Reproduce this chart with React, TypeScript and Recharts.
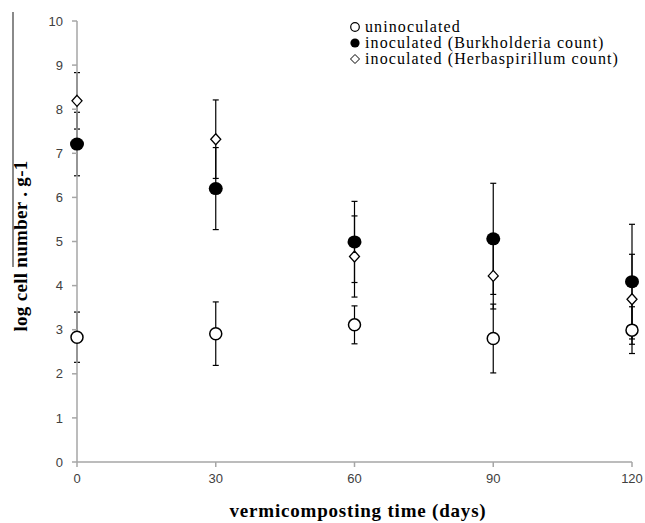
import React from "react";
import {
  ScatterChart,
  Scatter,
  XAxis,
  YAxis,
  ErrorBar,
  Label,
} from "recharts";

const days = [0, 30, 60, 90, 120];
const xTicks = [0, 30, 60, 90, 120];
const yTicks = [0, 1, 2, 3, 4, 5, 6, 7, 8, 9, 10];

const uninoculated = [2.83, 2.91, 3.11, 2.8, 2.99];
const uninoculatedErr = [0.57, 0.72, 0.43, 0.78, 0.53];
const burkholderia = [7.21, 6.2, 4.99, 5.06, 4.09];
const burkholderiaErr = [0.72, 0.93, 0.92, 1.26, 1.3];
const herbaspirillum = [8.19, 7.32, 4.66, 4.22, 3.69];
const herbaspirillumErr = [0.64, 0.89, 0.92, 0.75, 1.02];

const toRows = (vals: number[], errs: number[]) =>
  days.map((d, i) => ({ day: d, value: vals[i], err: errs[i] }));

const uninocData = toRows(uninoculated, uninoculatedErr);
const burkData = toRows(burkholderia, burkholderiaErr);
const herbData = toRows(herbaspirillum, herbaspirillumErr);

const serif = '"Liberation Serif", "Times New Roman", serif';
const sans = '"Liberation Sans", Arial, sans-serif';
const axisGray = "#a6a6a6";

const OpenCircle = (p: any) => (
  <circle cx={p.cx} cy={p.cy} r={6} fill="#fff" stroke="#000" strokeWidth={1.5} />
);
const FilledCircle = (p: any) => (
  <ellipse cx={p.cx} cy={p.cy} rx={7} ry={6.5} fill="#000" />
);
const Diamond = (p: any) => (
  <path
    d={`M${p.cx},${p.cy - 5.5} L${p.cx + 5},${p.cy} L${p.cx},${p.cy + 5.5} L${p.cx - 5},${p.cy} Z`}
    fill="#fff"
    stroke="#000"
    strokeWidth={1.3}
  />
);

const legendRows = [
  { label: "uninoculated", kind: "open" },
  { label: "inoculated (Burkholderia count)", kind: "filled" },
  { label: "inoculated (Herbaspirillum count)", kind: "diamond" },
];

function LegendBox() {
  return (
    <div
      style={{
        position: "absolute",
        left: 349,
        top: 19,
        fontFamily: serif,
        fontSize: 16,
        letterSpacing: "1.1px",
        lineHeight: "16px",
        color: "#000",
      }}
    >
      {legendRows.map((r) => (
        <div key={r.label} style={{ display: "flex", alignItems: "center", whiteSpace: "nowrap", height: 16 }}>
          <svg width={14} height={12} style={{ marginRight: 2 }}>
            {r.kind === "open" && <circle cx={6} cy={6} r={4.3} fill="#fff" stroke="#000" strokeWidth={1.2} />}
            {r.kind === "filled" && <circle cx={6} cy={6} r={4.6} fill="#000" />}
            {r.kind === "diamond" && (
              <path d="M6,1.5 L10.5,6 L6,10.5 L1.5,6 Z" fill="#fff" stroke="#000" strokeWidth={1} />
            )}
          </svg>
          <span>{r.label}</span>
        </div>
      ))}
    </div>
  );
}

export default function App() {
  return (
    <div style={{ position: "absolute", left: 0, top: 0, width: 645, height: 523, background: "#fff" }}>
      {/* stray rule from the original scan */}
      <div
        style={{
          position: "absolute",
          left: 12,
          top: 12,
          width: 2,
          height: 255,
          background: "#8a8a8a",
        }}
      />
      <ScatterChart width={645} height={523} margin={{ top: 21, right: 13, left: 17, bottom: 31 }}>
        <XAxis
          type="number"
          dataKey="day"
          domain={[0, 120]}
          ticks={xTicks}
          interval={0}
          stroke={axisGray}
          strokeWidth={1.5}
          tickSize={5}
          tickMargin={7}
          height={30}
          tick={{ fill: "#404040", fontSize: 13, fontFamily: sans }}
        >
          <Label
            content={() => (
              <text
                x={358}
                y={517}
                textAnchor="middle"
                fontFamily={serif}
                fontWeight="bold"
                fontSize={19}
                letterSpacing={0.8}
                fill="#000"
              >
                vermicomposting time (days)
              </text>
            )}
          />
        </XAxis>
        <YAxis
          type="number"
          dataKey="value"
          domain={[0, 10]}
          ticks={yTicks}
          interval={0}
          width={60}
          stroke={axisGray}
          strokeWidth={1.5}
          tickSize={5}
          tickMargin={9}
          tick={{ fill: "#404040", fontSize: 13, fontFamily: sans }}
        >
          <Label
            content={() => (
              <text
                x={27}
                y={246}
                transform="rotate(-90 27 246)"
                textAnchor="middle"
                fontFamily={serif}
                fontWeight="bold"
                fontSize={19}
                letterSpacing={0.3}
                fill="#000"
              >
                log cell number . g-1
              </text>
            )}
          />
        </YAxis>
        <Scatter data={uninocData} shape={OpenCircle} isAnimationActive={false}>
          <ErrorBar dataKey="err" direction="y" width={3} stroke="#000" strokeWidth={1.2} />
        </Scatter>
        <Scatter data={burkData} shape={FilledCircle} isAnimationActive={false}>
          <ErrorBar dataKey="err" direction="y" width={3} stroke="#000" strokeWidth={1.2} />
        </Scatter>
        <Scatter data={herbData} shape={Diamond} isAnimationActive={false}>
          <ErrorBar dataKey="err" direction="y" width={3} stroke="#000" strokeWidth={1.2} />
        </Scatter>
      </ScatterChart>
      <LegendBox />
    </div>
  );
}
